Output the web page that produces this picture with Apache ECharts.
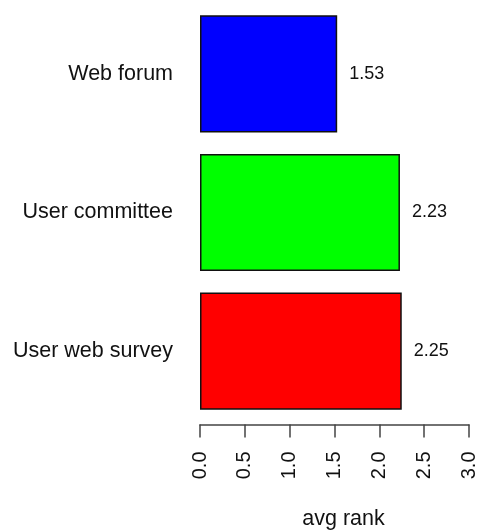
<!DOCTYPE html>
<html>
<head>
<meta charset="utf-8">
<script src="https://cdn.jsdelivr.net/npm/echarts@6/dist/echarts.min.js"></script>
<style>
  html, body { margin: 0; padding: 0; background: #fff; }
  #chart { width: 480px; height: 531px; }
</style>
</head>
<body>
<div id="chart"></div>
<script>
// bottom to top, like barplot(horiz = TRUE)
const categories = ["User web survey", "User committee", "Web forum"];
const avgRank = [2.25, 2.23, 1.53];
const barColors = ["#ff0000", "#00ff00", "#0000ff"];
const xTicks = [0, 0.5, 1, 1.5, 2, 2.5, 3];

const fontFamily = "'Liberation Sans', Arial, sans-serif";

const chart = echarts.init(document.getElementById("chart"), null, { renderer: "canvas" });

chart.setOption({
  animation: false,
  grid: {
    left: 200,
    right: 11,
    top: 4.5,
    bottom: 110.5,
    outerBoundsMode: "none",
    containLabel: false
  },
  xAxis: {
    type: "value",
    min: xTicks[0],
    max: xTicks[xTicks.length - 1],
    interval: 0.5,
    offset: 4,
    name: "avg rank",
    nameLocation: "middle",
    nameGap: 84,
    nameTextStyle: { fontSize: 21.5, color: "#111", fontFamily: fontFamily, padding: [0, 0, 0, 18] },
    splitLine: { show: false },
    axisLine: { show: true, lineStyle: { color: "#444", width: 1.5 } },
    axisTick: { show: true, length: 13, lineStyle: { color: "#444", width: 1.5 } },
    axisLabel: {
      rotate: 90,
      margin: 27,
      fontSize: 20,
      color: "#111",
      fontFamily: fontFamily,
      formatter: v => v.toFixed(1)
    }
  },
  yAxis: {
    type: "category",
    data: categories,
    axisLine: { show: false },
    axisTick: { show: false },
    axisLabel: {
      margin: 27,
      fontSize: 21.5,
      color: "#111",
      fontFamily: fontFamily
    }
  },
  series: [
    {
      type: "bar",
      barCategoryGap: "15.5%",
      data: avgRank.map((v, i) => ({
        value: v,
        itemStyle: { color: barColors[i] }
      })),
      itemStyle: { borderColor: "#111", borderWidth: 1.5 },
      label: {
        show: true,
        position: "right",
        distance: 12,
        fontSize: 18,
        color: "#111",
        fontFamily: fontFamily,
        formatter: p => p.value.toFixed(2)
      }
    }
  ]
});
</script>
</body>
</html>
